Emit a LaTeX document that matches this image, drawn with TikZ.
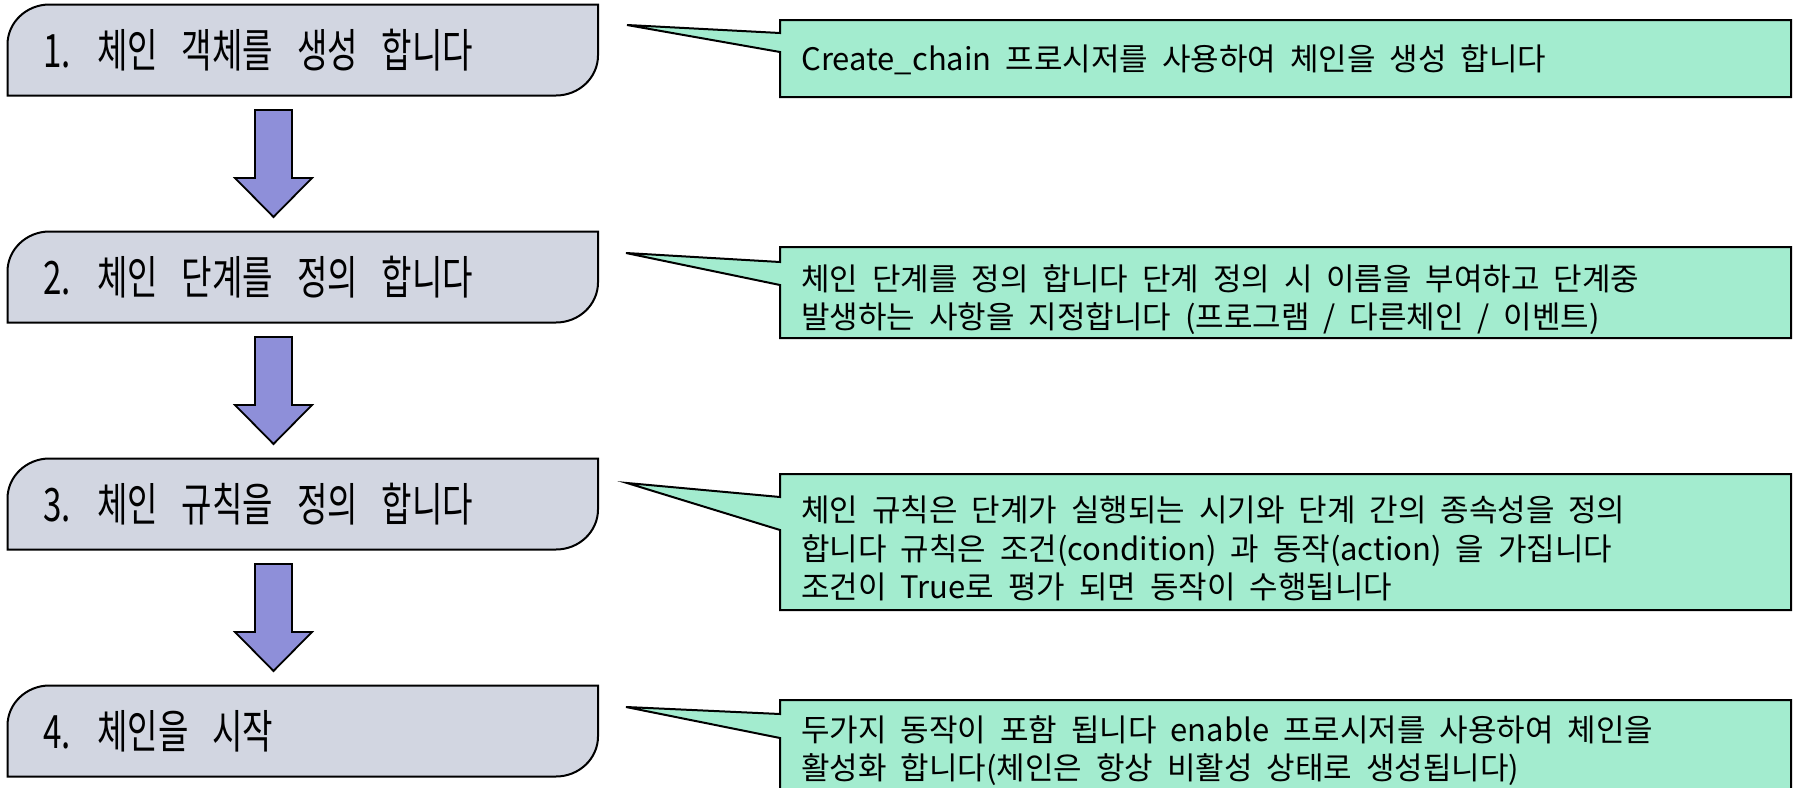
\documentclass[tikz,border=0pt]{standalone}
\usepackage{fontspec}
\setmainfont{Noto Sans CJK KR}
\newfontfamily\stepfont[FakeStretch=0.72,WordSpace=3.2]{Noto Sans CJK KR}
\newfontfamily\notefont[WordSpace=2]{Noto Sans CJK KR}
\definecolor{stepfill}{HTML}{D2D6E1}
\definecolor{arrowfill}{HTML}{8E8FD9}
\definecolor{notefill}{HTML}{A3ECCF}
\tikzset{
  stepshape/.style={draw=black,line width=1pt,fill=stepfill},
  arrowshape/.style={draw=black,line width=0.9pt,fill=arrowfill},
  noteshape/.style={draw=black,line width=1pt,fill=notefill},
  steptext/.style={inner sep=0pt,anchor=base west,font=\stepfont\fontsize{23}{28}\selectfont},
  notetext/.style={inner sep=0pt,anchor=base west,font=\notefont\fontsize{15.5}{19.5}\selectfont}
}
\newcommand\drawstepbox[1]{%
  \path[stepshape] (7.5,#1+91) -- (7.5,#1+40)
    .. controls (7.5,#1+18) and (26.3,#1) .. (49.5,#1)
    -- (598,#1) -- (598,#1+51)
    .. controls (598,#1+73) and (579.2,#1+91) .. (556,#1+91) -- cycle;}
\newcommand\drawdownarrow[1]{%
  \path[arrowshape] (255,#1) -- (292,#1) -- (292,#1+68) -- (312,#1+68)
    -- (273.5,#1+107) -- (235,#1+68) -- (255,#1+68) -- cycle;}
\newcommand\drawnote[6]{%
  \path[noteshape] (780,#1) -- (1791,#1) -- (1791,#2) -- (780,#2)
    -- (780,#6) -- (#3,#4) -- (780,#5) -- cycle;}
\begin{document}
\begin{tikzpicture}[x=0.5pt,y=-0.5pt]
\useasboundingbox (0,0) rectangle (1796,788);
\clip (0,0) rectangle (1796,788);

% step boxes
\drawstepbox{4.5}
\drawstepbox{231.5}
\drawstepbox{458.5}
\drawstepbox{685.5}
\node[steptext] (s1) at (43,67.5) {1. 체인 객체를 생성 합니다};
\node[steptext] (s2) at (43,294.5) {2. 체인 단계를 정의 합니다};
\node[steptext] (s3) at (43,521.5) {3. 체인 규칙을 정의 합니다};
\node[steptext] (s4) at (43,748.5) {4. 체인을 시작};

% block arrows
\drawdownarrow{110}
\drawdownarrow{337}
\drawdownarrow{564}

% callouts
\drawnote{20}{97}{627}{25}{33}{52}
\drawnote{247}{338}{626}{253}{262}{285}
\drawnote{474}{610}{627}{483}{497}{530}
\drawnote{700}{800}{626}{707}{714}{738}

\node[notetext] (c1) at (801,70) {Create\_chain 프로시저를 사용하여 체인을 생성 합니다};
\node[notetext] (c2a) at (801,290) {체인 단계를 정의 합니다 단계 정의 시 이름을 부여하고 단계중};
\node[notetext] (c2b) at (801,328) {발생하는 사항을 지정합니다 (프로그램 / 다른체인 / 이벤트)};
\node[notetext] (c3a) at (801,521) {체인 규칙은 단계가 실행되는 시기와 단계 간의 종속성을 정의};
\node[notetext] (c3b) at (801,560) {합니다 규칙은 조건(condition) 과 동작(action) 을 가집니다};
\node[notetext] (c3c) at (801,598) {조건이 True로 평가 되면 동작이 수행됩니다};
\node[notetext] (c4a) at (801,741) {두가지 동작이 포함 됩니다 enable 프로시저를 사용하여 체인을};
\node[notetext] (c4b) at (801,779) {활성화 합니다(체인은 항상 비활성 상태로 생성됩니다)};
\end{tikzpicture}
\end{document}
